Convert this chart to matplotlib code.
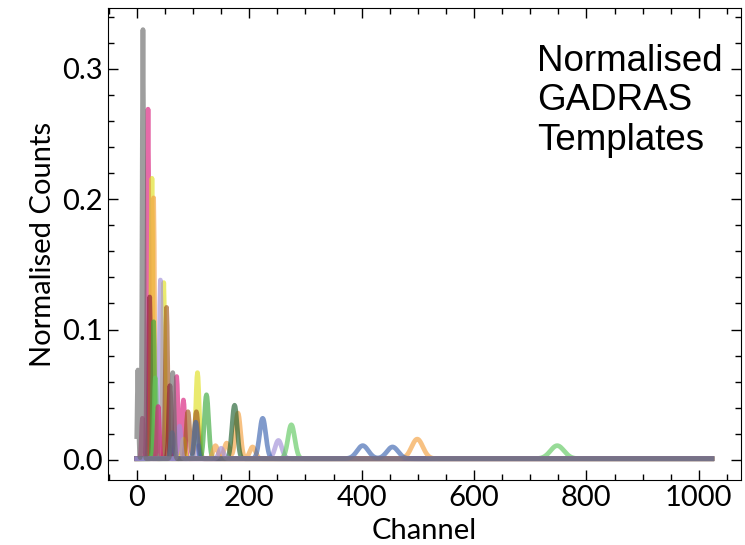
import numpy as np
import matplotlib
matplotlib.use("Agg")
import matplotlib.pyplot as plt
from matplotlib.ticker import MultipleLocator, FormatStrFormatter

# template colours and peaks: (channel, height, sigma)
COLORS = ['#d81b7a', '#e0e020', '#f4a040', '#a08ed8', '#a0561a', '#8b1a3a',
          '#3aa83a', '#60c860', '#1f5f2f', '#3c64b0', '#d81b7a', '#f4a040',
          '#3c64b0', '#a08ed8', '#6a6a6a']

PEAKS = [
    [(20, 0.268, 1.6), (71, 0.063, 2.2), (83, 0.045, 2.5)],
    [(27, 0.215, 1.6), (48, 0.135, 1.8), (108, 0.066, 3.0), (83, 0.015, 2.5)],
    [(30, 0.200, 1.6), (180, 0.035, 4.5), (206, 0.009, 5.0), (160, 0.012, 4.5)],
    [(42, 0.137, 1.8), (252, 0.014, 6.0), (110, 0.010, 3.0)],
    [(53, 0.116, 2.0), (91, 0.036, 3.0), (106, 0.036, 3.2)],
    [(23, 0.124, 1.6), (59, 0.056, 2.2)],
    [(30, 0.105, 1.6), (124, 0.049, 3.8)],
    [(33, 0.062, 2.0), (275, 0.026, 6.0), (748, 0.010, 12.0)],
    [(174, 0.041, 4.5)],
    [(224, 0.031, 5.5), (105, 0.028, 3.0), (63, 0.020, 2.5)],
    [(10, 0.031, 1.6), (38, 0.040, 2.0)],
    [(499, 0.015, 10.0), (140, 0.010, 4.0)],
    [(402, 0.010, 10.0), (455, 0.009, 10.0)],
    [(76, 0.025, 2.5), (150, 0.008, 4.0)],
    [(11, 0.329, 1.4), (2, 0.068, 1.2), (64, 0.066, 2.2)],
]

BASELINE = 0.001
channels = np.arange(1024)

plt.rcParams['font.family'] = ['Lato', 'DejaVu Sans']

fig = plt.figure(figsize=(7.45, 5.45), dpi=100)
ax = fig.add_axes([0.145, 0.119, 0.849, 0.866])

for color, peaks in zip(COLORS, PEAKS):
    counts = np.full(channels.shape, BASELINE)
    for c, h, s in peaks:
        counts = counts + h * np.exp(-0.5 * ((channels - c) / s) ** 2)
    ax.plot(channels, counts, color=color, lw=3.4, alpha=0.65)

ax.set_xlabel('Channel', fontsize=21, labelpad=5)
ax.set_ylabel('Normalised Counts', fontsize=21, labelpad=5)

ax.xaxis.set_major_locator(MultipleLocator(200))
ax.xaxis.set_minor_locator(MultipleLocator(50))
ax.yaxis.set_major_locator(MultipleLocator(0.1))
ax.yaxis.set_minor_locator(MultipleLocator(0.02))
ax.tick_params(which='both', direction='in', top=True, right=True, labelsize=21)
ax.tick_params(which='major', length=7, width=1)
ax.tick_params(which='minor', length=4, width=1)
ax.yaxis.set_major_formatter(FormatStrFormatter('%.1f'))

ax.text(0.678, 0.925, 'Normalised\nGADRAS\nTemplates', transform=ax.transAxes,
        ha='left', va='top', fontsize=26.5, family='Liberation Sans',
        linespacing=1.18)

fig.savefig('out.png', dpi=100)
